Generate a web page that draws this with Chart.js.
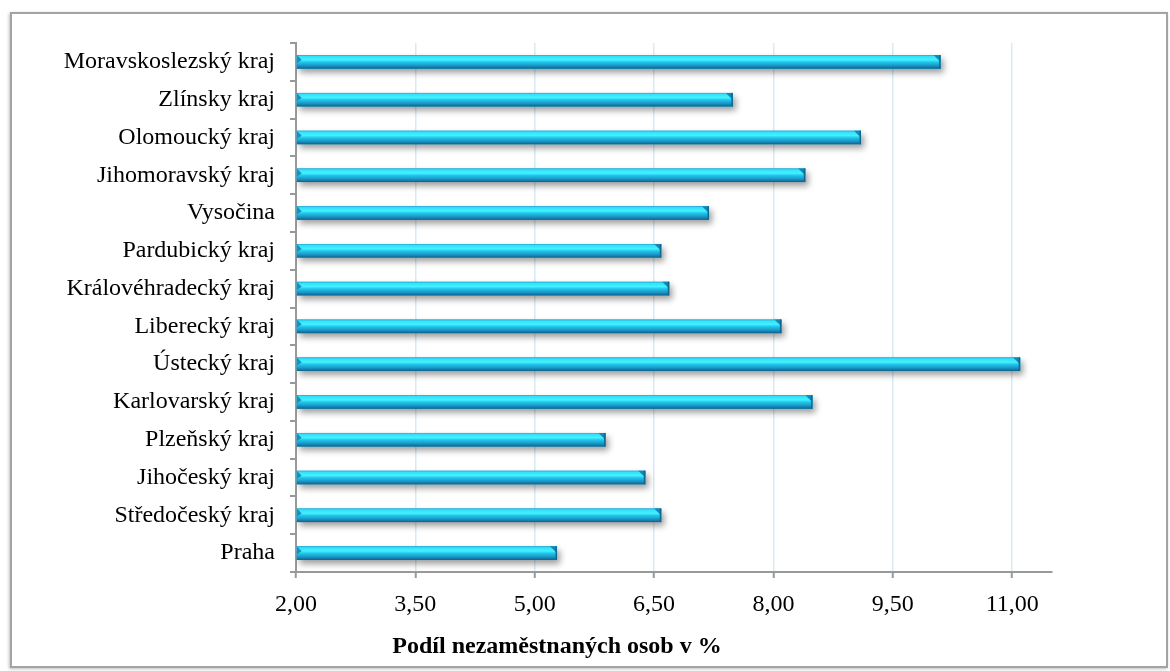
<!DOCTYPE html>
<html>
<head>
<meta charset="utf-8">
<script src="https://cdn.jsdelivr.net/npm/chart.js@4.4.0/dist/chart.umd.min.js"></script>
<style>
  html, body { margin: 0; padding: 0; background: #fff; }
  body { width: 1170px; height: 671px; position: relative; overflow: hidden; }
  .frame {
    position: absolute; left: 10px; top: 12px; width: 1154px; height: 652px;
    border: 2px solid #a3a3a3;
    box-shadow: -1px 1px 3px rgba(0, 0, 0, 0.25);
  }
  #chart { position: absolute; left: 0; top: 0; }
</style>
</head>
<body>
<div class="frame"></div>
<canvas id="chart" width="1170" height="671"></canvas>
<script>
(function () {
  'use strict';

  /* ── Data: podíl nezaměstnaných podle krajů (top → bottom) ── */
  const regions = [
    'Moravskoslezský kraj', 'Zlínsky kraj', 'Olomoucký kraj', 'Jihomoravský kraj',
    'Vysočina', 'Pardubický kraj', 'Královéhradecký kraj', 'Liberecký kraj',
    'Ústecký kraj', 'Karlovarský kraj', 'Plzeňský kraj', 'Jihočeský kraj',
    'Středočeský kraj', 'Praha'
  ];
  const unemployment = [10.10, 7.49, 9.10, 8.40, 7.19, 6.59, 6.69, 8.10, 11.10, 8.49, 5.89, 6.39, 6.59, 5.28];
  const xTicks = [2, 3.5, 5, 6.5, 8, 9.5, 11];
  const xMin = 2;
  const xMax = 11.5;
  const xTitle = 'Podíl nezaměstnaných osob v %';

  const FONT = "'Liberation Serif', 'Times New Roman', serif";
  const AXIS = '#999999';
  const GRID = '#d8eaf2';

  /* ── Bevelled cyan bars with a soft drop shadow ── */
  const barStyle = {
    id: 'barStyle',
    beforeDatasetsDraw(chart) {
      const c = chart.ctx;
      c.save();
      c.shadowColor = 'rgba(0, 0, 0, 0.38)';
      c.shadowBlur = 6;
      c.shadowOffsetX = 3;
      c.shadowOffsetY = 4;
    },
    afterDatasetsDraw(chart) {
      const c = chart.ctx;
      const area = chart.chartArea;
      c.restore();
      c.save();
      chart.getDatasetMeta(0).data.forEach(function (bar) {
        const top = bar.y - bar.height / 2;
        const bot = bar.y + bar.height / 2;
        const l = Math.max(bar.base, area.left);
        const r = bar.x;
        const h = bot - top;

        const g = c.createLinearGradient(0, top, 0, bot);
        g.addColorStop(0, '#1ea6d4');
        g.addColorStop(0.1, '#33e0fa');
        g.addColorStop(0.35, '#42f2ff');
        g.addColorStop(0.52, '#22c4ea');
        g.addColorStop(0.75, '#1a9bcb');
        g.addColorStop(0.9, '#137aa6');
        g.addColorStop(1, '#0d5e85');
        c.fillStyle = g;
        c.fillRect(l, top, r - l, h);

        // right end facet
        const b = Math.min(7, h * 0.55);
        c.fillStyle = '#1686b3';
        c.beginPath();
        c.moveTo(r - b, top);
        c.lineTo(r, top);
        c.lineTo(r, top + b);
        c.closePath();
        c.fill();
        c.fillStyle = '#0f6a92';
        c.fillRect(r - 1.5, top, 1.5, h);

        // left end facet
        c.fillStyle = '#1a8fbd';
        c.beginPath();
        c.moveTo(l, top);
        c.lineTo(l + 5, top + 5);
        c.lineTo(l, top + 8);
        c.closePath();
        c.fill();
      });
      c.restore();
    }
  };

  /* ── Axis caption under the value axis ── */
  const axisCaption = {
    id: 'axisCaption',
    afterDraw(chart) {
      const c = chart.ctx;
      c.save();
      c.font = 'bold 24px ' + FONT;
      c.fillStyle = '#000';
      c.textAlign = 'center';
      c.textBaseline = 'middle';
      c.fillText(xTitle, chart.chartArea.left + 261, 647);
      c.restore();
    }
  };

  const ctx = document.getElementById('chart');

  new Chart(ctx, {
    type: 'bar',
    data: {
      labels: regions,
      datasets: [{
        data: unemployment,
        base: xMin,
        backgroundColor: '#1fb6e0',
        borderWidth: 0,
        barPercentage: 0.36,
        categoryPercentage: 1
      }]
    },
    options: {
      indexAxis: 'y',
      responsive: false,
      animation: false,
      events: [],
      layout: { padding: { top: 43, right: 118, left: 0, bottom: 0 } },
      plugins: {
        legend: { display: false },
        title: { display: false },
        tooltip: { enabled: false }
      },
      scales: {
        x: {
          type: 'linear',
          min: xMin,
          max: xMax,
          afterBuildTicks(scale) {
            scale.ticks = xTicks.map(function (v) { return { value: v }; });
          },
          afterFit(scale) { scale.height = 99; },
          grid: {
            color: GRID,
            lineWidth: 1.5,
            drawTicks: true,
            tickLength: 6,
            tickColor: AXIS,
            tickWidth: 2
          },
          border: { color: AXIS, width: 2 },
          ticks: {
            color: '#000',
            padding: 12,
            maxRotation: 0,
            font: { family: FONT, size: 24 },
            callback: function (v) { return Number(v).toFixed(2).replace('.', ','); }
          }
        },
        y: {
          afterFit(scale) { scale.width = 296; },
          grid: {
            offset: true,
            drawOnChartArea: false,
            drawTicks: true,
            tickLength: 6,
            color: AXIS,
            lineWidth: 2
          },
          border: { color: AXIS, width: 2 },
          ticks: {
            color: '#000',
            padding: 15,
            autoSkip: false,
            font: { family: FONT, size: 24 }
          }
        }
      }
    },
    plugins: [barStyle, axisCaption]
  });
})();
</script>
</body>
</html>
